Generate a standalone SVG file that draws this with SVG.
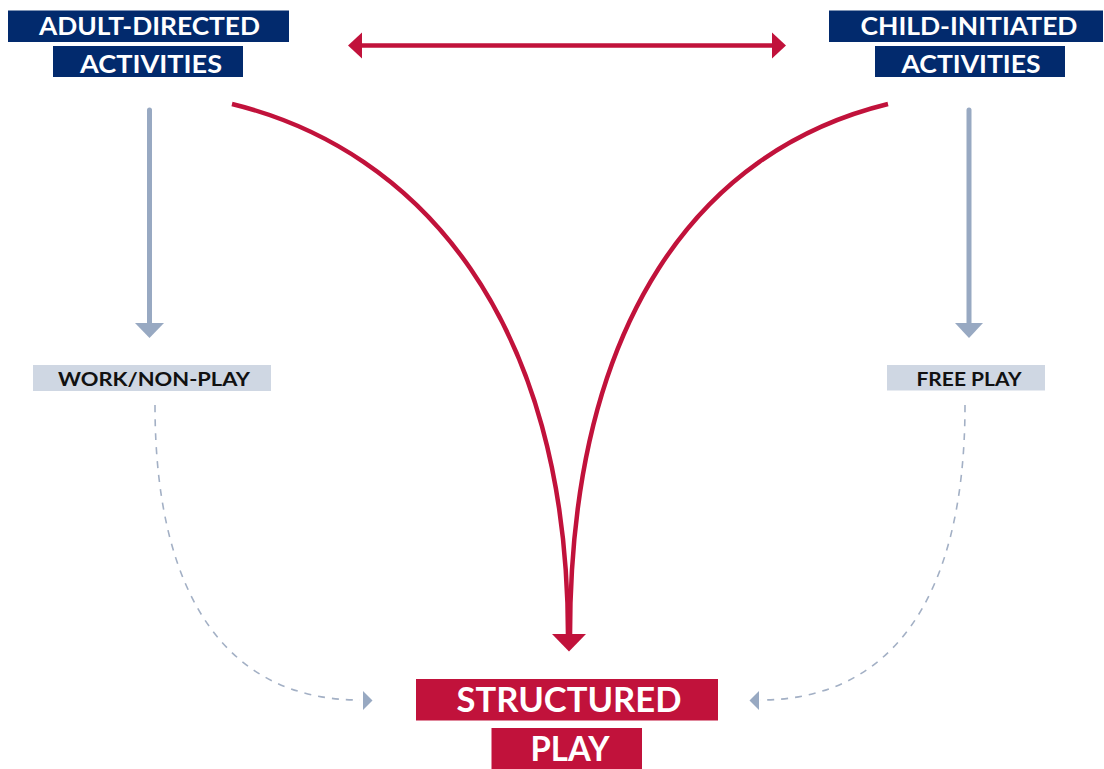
<svg xmlns="http://www.w3.org/2000/svg" width="1104" height="769" viewBox="0 0 1104 769">
<style>
.navy{fill:#022a6d}
.red{fill:#c1123b}
.light{fill:#cfd7e3}
.gray{fill:#98a9c2}
.t{font-family:Lato,"Open Sans","Liberation Sans",sans-serif;font-weight:bold;text-anchor:middle}
.w{fill:#ffffff}
.k{fill:#111111}
.big{font-size:25px}
.small{font-size:18.5px}
.huge{font-size:33.5px}
.redline{fill:none;stroke:#c1123b;stroke-width:4.5}
.grayline{fill:none;stroke:#98a9c2;stroke-width:5;stroke-linecap:round}
.dash{fill:none;stroke:#a3b0c5;stroke-width:1.6;stroke-dasharray:7 7}
</style>
<rect width="1104" height="769" fill="#ffffff"/>
<g id="connectors">
<line class="redline" x1="360" y1="45.5" x2="774" y2="45.5"/>
<polygon class="red" points="348,45.5 362,32.5 362,58.5"/>
<polygon class="red" points="786,45.5 772,32.5 772,58.5"/>
<line class="grayline" x1="149.5" y1="110" x2="149.5" y2="326"/>
<polygon class="gray" points="135,323 164,323 149.5,338"/>
<line class="grayline" x1="969" y1="110" x2="969" y2="326"/>
<polygon class="gray" points="955,323 983,323 969,338"/>
<path class="redline" d="M232,104 C420,150 568,320 568,636"/>
<path class="redline" d="M888,104 C700,150 570,320 570,636"/>
<polygon class="red" points="552,634 586,634 569,651.5"/>
<path class="dash" d="M155,405 C155,600 230,700 360,700"/>
<polygon class="gray" points="363,691 372.5,700.5 363,710"/>
<path class="dash" d="M965,405 C965,600 890,700 760,700"/>
<polygon class="gray" points="759,691 749.5,700.5 759,710"/>
</g>
<g id="adult">
<rect class="navy" x="8" y="10.5" width="281" height="31.5"/>
<rect class="navy" x="53" y="46" width="190" height="31"/>
<text class="t w big" x="149.5" y="35" textLength="221" lengthAdjust="spacingAndGlyphs">ADULT-DIRECTED</text>
<text class="t w big" x="151" y="73" textLength="142" lengthAdjust="spacingAndGlyphs">ACTIVITIES</text>
</g>
<g id="child">
<rect class="navy" x="829" y="10.5" width="274" height="31.5"/>
<rect class="navy" x="875" y="46" width="190" height="31"/>
<text class="t w big" x="969" y="35" textLength="217" lengthAdjust="spacingAndGlyphs">CHILD-INITIATED</text>
<text class="t w big" x="971" y="73" textLength="139" lengthAdjust="spacingAndGlyphs">ACTIVITIES</text>
</g>
<g id="work">
<rect class="light" x="33" y="365" width="238" height="26"/>
<text class="t k small" x="154" y="385.5" textLength="192" lengthAdjust="spacingAndGlyphs">WORK/NON-PLAY</text>
</g>
<g id="free">
<rect class="light" x="887" y="365" width="158" height="25.5"/>
<text class="t k small" x="969" y="385.5" textLength="105" lengthAdjust="spacingAndGlyphs">FREE PLAY</text>
</g>
<g id="structured">
<rect class="red" x="416" y="679" width="302" height="41.5"/>
<rect class="red" x="491.5" y="728" width="150.5" height="41"/>
<text class="t w huge" x="569" y="711.5" textLength="225" lengthAdjust="spacingAndGlyphs">STRUCTURED</text>
<text class="t w huge" x="570" y="761" textLength="79" lengthAdjust="spacingAndGlyphs">PLAY</text>
</g>
</svg>
